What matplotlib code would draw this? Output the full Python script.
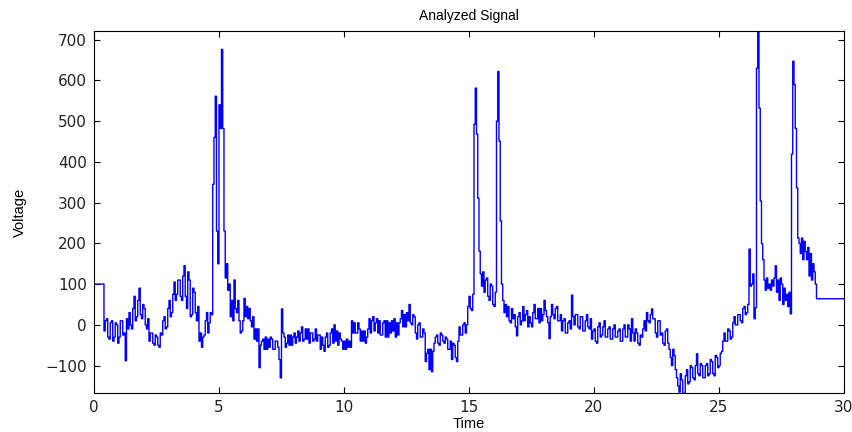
import numpy as np
import matplotlib
matplotlib.use("Agg")
import matplotlib.pyplot as plt

plt.rcParams['font.family'] = ['Liberation Sans', 'DejaVu Sans']

dt = 0.05
voltage = [
    100, 100, 100, 100, 100, 100, 100, 100, -15, 10,            # 0.0
    15, -30, -35, 5, 10, -40, -30, 5, 0, -45,                   # 0.5
    -30, 10, 10, -25, -20, -88, 15, -10, 30, 0,                 # 1.0
    -10, 40, 70, 10, 20, 60, 90, 25, 15, 50,                    # 1.5
    40, 0, -10, 15, -40, -20, -20, -45, -50, -25,               # 2.0
    -30, -50, -55, -20, -25, 10, 20, -10, -5, 40,               # 2.5
    60, 20, 30, 75, 105, 60, 75, 110, 110, 70,                  # 3.0
    60, 120, 145, 70, 40, 130, 110, 20, 25, 90,                 # 3.5
    80, 30, 10, 45, -40, -20, -55, -30, -25, 10,                # 4.0
    30, -20, 5, 30, 25, 345, 460, 561, 230, 150,                # 4.5
    540, 482, 676, 482, 230, 115, 150, 85, 100, 20,             # 5.0
    60, 10, 110, 40, 30, 60, 10, -20, -15, 10,                  # 5.5
    65, 20, 45, 15, 40, 10, -5, 20, -35, -10,                   # 6.0
    -40, -10, -105, -50, -40, -35, -60, -30, -60, -35,          # 6.5
    -55, -30, -35, -60, -60, -40, -40, -55, -85, -130,          # 7.0
    39, -20, -30, -55, -45, -25, -50, -25, -50, -30,            # 7.5
    -20, -45, -30, -15, -40, -20, -5, -40, -35, -10,            # 8.0
    -35, -10, -45, -20, -20, -40, -35, -10, -40, -25,           # 8.5
    -25, -60, -30, -50, -65, -30, -20, -55, -50, -20,           # 9.0
    -10, -45, 0, -40, -15, -50, -20, -35, -40, -60,             # 9.5
    -40, -60, -35, -55, -40, -55, 10, -20, 5, -20,              # 10.0
    -20, 5, -10, -40, -15, -40, -15, -45, -30, -10,             # 10.5
    15, -20, 10, 20, -15, 5, 15, -20, 10, -25,                  # 11.0
    -25, 5, 10, -30, 10, -30, 5, -20, 10, -15,                  # 11.5
    15, -30, 5, -25, 5, 15, 35, -5, 25, -5,                     # 12.0
    30, 10, 50, 5, 0, 25, 20, -20, -35, 0,                      # 12.5
    5, -30, -30, -10, -20, -90, -70, -60, -110, -60,            # 13.0
    -115, -65, -45, -30, -25, -45, -50, -20, -25, -40,          # 13.5
    -45, -30, -35, -60, -60, -40, -85, -45, -50, -80,           # 14.0
    -90, -40, -5, -25, -25, 0, 5, -20, 0, 45,                   # 14.5
    70, 40, 35, 75, 492, 581, 468, 311, 181, 125,               # 15.0
    95, 130, 80, 110, 115, 70, 60, 100, 95, 50,                 # 15.5
    45, 80, 500, 622, 451, 255, 100, 60, 30, 50,                # 16.0
    20, 45, 10, 5, 40, 15, 25, -5, -27, 20,                     # 16.5
    30, 0, 10, 45, 10, 25, 35, -5, 20, 5,                       # 17.0
    -5, 30, 50, 15, 15, 40, 5, 40, 10, 25,                      # 17.5
    60, 35, 20, 5, -34, 20, 50, 25, 15, 40,                     # 18.0
    45, 10, 10, 25, -15, 10, 15, -20, -20, 5,                   # 18.5
    10, -10, 73, 20, 0, 25, 25, -5, -10, 20,                    # 19.0
    20, -15, -15, 10, 25, -5, -10, 15, -35, -15,                # 19.5
    -10, -40, -45, -5, 5, -30, -25, -5, 10, -30,                # 20.0
    -30, -10, -5, -35, -35, -10, 0, -30, -30, -15,              # 20.5
    -10, -40, -40, -10, 0, -30, -30, 0, -10, -40,               # 21.0
    15, -20, -40, -10, -20, -45, -50, -25, -30, -10,            # 21.5
    10, -15, 30, 10, 5, 25, 39, 15, 15, -20,                    # 22.0
    -30, 10, 10, -25, -20, -45, -50, -15, -10, -45,             # 22.5
    -60, -80, -100, -60, -75, -110, -130, -150, -165, -120,     # 23.0
    -135, -168, -168, -125, -110, -145, -140, -100, -105, -130, # 23.5
    -135, -100, -71, -120, -125, -95, -100, -130, -130, -100,   # 24.0
    -95, -125, -120, -85, -90, -120, -125, -75, -80, -105,      # 24.5
    -100, -70, -65, -40, -20, -40, -40, -10, -15, -35,          # 25.0
    -30, 5, 20, 0, 0, 25, 25, 10, 5, 40,                        # 25.5
    45, 25, 30, 50, 186, 95, 100, 125, 15, 42,                  # 26.0
    630, 720, 532, 304, 199, 160, 110, 85, 115, 90,             # 26.5
    100, 85, 110, 95, 115, 145, 80, 110, 60, 115,               # 27.0
    100, 50, 90, 60, 75, 45, 80, 27, 419, 647,                  # 27.5
    590, 482, 336, 213, 200, 175, 213, 160, 205, 180,           # 28.0
    160, 190, 120, 175, 110, 150, 130, 100,                     # 28.5
]
tail_level = 64   # flat hold from 28.9 s to the end
t_end = 30

xticks = [0, 5, 10, 15, 20, 25, 30]
yticks = [-100, 0, 100, 200, 300, 400, 500, 600, 700]

time = np.arange(len(voltage)) * dt
time = np.append(time, [time[-1] + dt, t_end])
values = np.append(voltage, [tail_level, tail_level])

fig = plt.figure(figsize=(8.52, 4.32), dpi=100)
ax = fig.add_axes([0.1103, 0.0896, 0.8803, 0.8394])
ax.plot(time, values, color='#0000ff', linewidth=1.0, drawstyle='steps-post')

ax.set_xlim(0, 30)
ax.set_ylim(-168, 722)
ax.set_xticks(xticks)
ax.set_yticks(yticks)
ax.tick_params(direction='in', top=True, right=True, length=4, width=0.8,
               labelsize=11, pad=5, labelcolor='#222222')
for lab in ax.get_xticklabels() + ax.get_yticklabels():
    lab.set_family('DejaVu Sans')
for sp in ax.spines.values():
    sp.set_linewidth(0.8)
ax.set_title('Analyzed Signal', fontsize=10, pad=8)
ax.set_xlabel('Time', fontsize=10.5, labelpad=1)
ax.set_ylabel('Voltage', fontsize=10.5, labelpad=13)

fig.savefig('out.png', dpi=100)
